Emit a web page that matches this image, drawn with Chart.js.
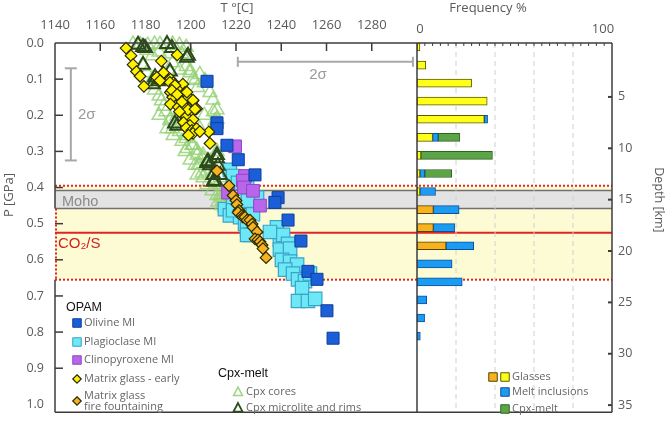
<!DOCTYPE html>
<html>
<head>
<meta charset="utf-8">
<script src="https://cdn.jsdelivr.net/npm/chart.js@4.4.1/dist/chart.umd.min.js"></script>
<style>
  html, body { margin: 0; padding: 0; background: #fff; overflow: hidden; }
  canvas { display: block; }
</style>
</head>
<body>
<canvas id="chart" width="669" height="423"></canvas>
<script>
// ---- data: [T °C, P GPa] ----
const olivineMI = [[1207.2,0.106],[1211.6,0.221],[1211.6,0.237],[1216,0.283],[1221,0.323],[1228.4,0.365],
  [1238.6,0.428],[1237.2,0.441],[1243,0.49],[1248.7,0.548],[1251.8,0.632],[1255.8,0.654],[1260.2,0.741],[1262.9,0.817]];
const plagMI = [[1217.3,0.351],[1218.7,0.368],[1220.9,0.387],[1224.9,0.373],[1225.3,0.42],[1229.3,0.428],
  [1215.1,0.46],[1218.7,0.447],[1220.4,0.474],[1217.3,0.477],[1221.8,0.482],[1224,0.501],[1224.9,0.515],
  [1226.2,0.531],[1225.3,0.436],[1227.5,0.474],[1238.1,0.51],[1239.4,0.545],[1240.8,0.531],[1243,0.556],
  [1235,0.523],[1239.4,0.572],[1243.9,0.569],[1240.3,0.6],[1243.9,0.605],[1247,0.613],[1241.7,0.627],
  [1245.2,0.638],[1247.4,0.654],[1250.5,0.659],[1249.2,0.678],[1252.7,0.638],[1247.4,0.714],[1251.8,0.714],
  [1255,0.708],[1224.9,0.531],[1218.7,0.463]];
const cpxMI = [[1219.6,0.286],[1224,0.368],[1223,0.381],[1223.5,0.4],[1227.5,0.409],[1216.5,0.414],[1230.6,0.45]];
const glassEarly = [[1171.4,0.014],[1173.6,0.035],[1174.5,0.06],[1176,0.079],[1177.6,0.092],[1179.3,0.12],
  [1187,0.05],[1194,0.033],[1188,0.082],[1191,0.1],[1192.3,0.11],[1194,0.12],[1196.5,0.114],[1195,0.134],
  [1197.5,0.137],[1191,0.137],[1192,0.15],[1196,0.16],[1199,0.15],[1201,0.16],[1191,0.169],[1194.5,0.177],
  [1198,0.18],[1202.6,0.182],[1196,0.196],[1200.5,0.19],[1198,0.204],[1201,0.212],[1196.8,0.22],[1199.6,0.228],
  [1198,0.235],[1200.5,0.242],[1202.6,0.237],[1201,0.25],[1208,0.246],[1208.5,0.278],[1199,0.255],[1204,0.245],
  [1185,0.095],[1186.4,0.104],[1190.8,0.109],[1193,0.117],[1191.7,0.131],[1194,0.142],[1198.3,0.136],
  [1201,0.158],[1197.5,0.177],[1198.8,0.185],[1201.9,0.183],[1196.1,0.163],[1195,0.19]];
const glassFountain = [[1211.6,0.354],[1216.9,0.395],[1218.7,0.422],[1220,0.436],[1220.4,0.447],[1221.3,0.463],
  [1220.9,0.469],[1222.7,0.477],[1223.1,0.482],[1224,0.482],[1224.9,0.49],[1226.2,0.49],[1227.1,0.501],
  [1227.5,0.51],[1229.3,0.523],[1228.4,0.542],[1229.7,0.545],[1230.6,0.55],[1231.5,0.559],[1231.9,0.569],[1233.3,0.594]];
const cpxCores = [[1174.5,0.003],[1177.6,0.004],[1181,0.006],[1184,0.003],[1186.4,0.004],[1189.5,0.006],
  [1192,0.003],[1195,0.006],[1198,0.012],[1180.6,0.02],[1186,0.025],[1183,0.035],[1190,0.03],[1196,0.03],
  [1192,0.055],[1198,0.065],[1199.7,0.082],[1204,0.087],[1195,0.075],[1201,0.1],[1206,0.11],[1208.5,0.137],
  [1203,0.123],[1210,0.19],[1211.6,0.21],[1206,0.2],[1204,0.237],[1198,0.264],[1200.5,0.283],[1202.7,0.297],
  [1205.4,0.31],[1208.5,0.327],[1204,0.338],[1207,0.354],[1210,0.365],[1212,0.392],[1213,0.42],[1214,0.436],
  [1213.8,0.45],[1192,0.237],[1195,0.245],[1191,0.21],[1188,0.175],[1186,0.147],[1183,0.1],[1180.6,0.082],
  [1179,0.065],[1190.8,0.215],[1193.9,0.202],[1189.5,0.237],[1192.2,0.256],[1196.1,0.272],[1198.3,0.256],
  [1201,0.283],[1197.5,0.3],[1202.8,0.31],[1205.4,0.319],[1199.7,0.324],[1201.9,0.338],[1207.2,0.338],
  [1205,0.36],[1209.8,0.36],[1211.6,0.3],[1213,0.373],[1210.7,0.215],[1198.3,0.292],[1203.2,0.338],
  [1202.8,0.365],[1205.4,0.373],[1207.2,0.392],[1209.4,0.409],[1211.6,0.422],[1213.8,0.428],[1199.7,0.076],
  [1201.9,0.104],[1206.3,0.104],[1209.8,0.158],[1211.6,0.185],[1184,0.13],[1187,0.16],[1189,0.19],[1186,0.2],
  [1212,0.44],[1215,0.455],[1218,0.46]];
const cpxRims = [[1176.7,0.005],[1178.9,0.011],[1179.8,0.014],[1189.5,0.003],[1191.7,0.014],[1198.8,0.035],
  [1178.9,0.06],[1184.2,0.095],[1186.4,0.1],[1187.7,0.087],[1190.8,0.079],[1183.3,0.114],[1185.5,0.106],
  [1193,0.223],[1194,0.229],[1207.2,0.332],[1207.6,0.327],[1211.6,0.31],[1208.5,0.338],[1210,0.365],
  [1210.7,0.381],[1213,0.365],[1212,0.34],[1210,0.384],[1198.3,0.041],[1211.6,0.319]];

// ---- frequency histogram, bins in P (GPa) ----
const binP          = [0, 0.05, 0.10, 0.15, 0.20, 0.25, 0.30, 0.35, 0.40, 0.45, 0.50, 0.55, 0.60, 0.65, 0.70, 0.75, 0.80];
const freqGlassFF   = [0, 0,    0,    0,    0,    0,    0,    0,    0,    8.4,  8.4,  14.9, 0,    0,    0,    0,    0];
const freqGlassEarly= [1.5, 4.5, 28,  36,   34.5, 8,    2,    1.5,  1.5,  0,    0,    0,    0,    0,    0,    0,    0];
const freqMI        = [0, 0,    0,    0,    1.7,  2.9,  0,    2.5,  8,    13.2, 10.9, 14.2, 18,   23.2, 5,    3.9,  1.7];
const freqCpx       = [0, 0,    0,    0,    0,    11.1, 36.7, 13.8, 0,    0,    0,    0,    0,    0,    0,    0,    0];

// ---- axis tick labels ----
const tTicks = [1140, 1160, 1180, 1200, 1220, 1240, 1260, 1280];
const pTicks = [0, 0.1, 0.2, 0.3, 0.4, 0.5, 0.6, 0.7, 0.8, 0.9, 1.0];
const depthTicks = [5, 10, 15, 20, 25, 30, 35];

// ---- reference levels (GPa) ----
const zone = [0.395, 0.655];
const moho = [0.408, 0.458];
const co2s = 0.525;

// left panel share of the plot width
const split = 362 / 557;

const pts = arr => arr.map(([t, p]) => ({ x: t, y: p }));
const bars = vals => binP.map((p, i) => ({ x: vals[i], y: p })).filter(d => d.x > 0);

function scatterSet(label, data, style, r, fill, stroke, lw) {
  return {
    type: 'scatter', label, data: pts(data), clip: false, xAxisID: 'x', yAxisID: 'y',
    pointStyle: style, pointRadius: r, pointHoverRadius: r,
    pointBackgroundColor: fill, pointBorderColor: stroke, pointBorderWidth: lw
  };
}
function barSet(label, vals, fill, stroke) {
  return {
    type: 'bar', label, data: bars(vals), indexAxis: 'y', xAxisID: 'x2', yAxisID: 'y',
    stack: 'freq', barThickness: 8, backgroundColor: fill, borderColor: stroke, borderWidth: 1,
    borderSkipped: false
  };
}

function line(ctx, x1, y1, x2, y2) {
  ctx.beginPath(); ctx.moveTo(x1, y1); ctx.lineTo(x2, y2); ctx.stroke();
}
function mark(ctx, shape, x, y, s, fill, stroke, lw) {
  ctx.beginPath();
  if (shape === 'sq') ctx.rect(x - s / 2, y - s / 2, s, s);
  else if (shape === 'dia') {
    ctx.moveTo(x, y - s / 2); ctx.lineTo(x + s / 2, y); ctx.lineTo(x, y + s / 2); ctx.lineTo(x - s / 2, y); ctx.closePath();
  } else {
    ctx.moveTo(x, y - s * 0.55); ctx.lineTo(x + s / 2, y + s * 0.4); ctx.lineTo(x - s / 2, y + s * 0.4); ctx.closePath();
  }
  if (fill) { ctx.fillStyle = fill; ctx.fill(); }
  ctx.strokeStyle = stroke; ctx.lineWidth = lw; ctx.stroke();
}
function text(ctx, str, x, y, font, color, align) {
  ctx.font = font; ctx.fillStyle = color; ctx.textAlign = align || 'left'; ctx.textBaseline = 'middle';
  ctx.fillText(str, x, y);
}

const decor = {
  id: 'decor',
  beforeDraw(chart) {
    const { ctx, chartArea: a, scales } = chart;
    const py = v => scales.y.getPixelForValue(v);
    const fx = v => scales.x2.getPixelForValue(v);
    ctx.save();
    const zt = py(zone[0]), zb = py(zone[1]);
    ctx.fillStyle = '#fdfbd3';
    ctx.fillRect(a.left, zt, a.right - a.left, zb - zt);
    const mt = py(moho[0]), mb = py(moho[1]);
    ctx.fillStyle = '#e3e3e3';
    ctx.fillRect(a.left, mt, a.right - a.left, mb - mt);
    ctx.strokeStyle = '#707070'; ctx.lineWidth = 1.5;
    line(ctx, a.left, mt, a.right, mt);
    line(ctx, a.left, mb, a.right, mb);
    ctx.strokeStyle = '#e02424'; ctx.lineWidth = 2; ctx.setLineDash([2, 2]);
    line(ctx, a.left, zt, a.right, zt);
    line(ctx, a.left, zb, a.right, zb);
    line(ctx, a.left + 1, mb, a.left + 1, zb);
    ctx.setLineDash([]);
    ctx.strokeStyle = '#e02424'; ctx.lineWidth = 2;
    line(ctx, a.left, py(co2s), a.right, py(co2s));
    ctx.strokeStyle = '#d0d0d0'; ctx.lineWidth = 1; ctx.setLineDash([5, 4]);
    [20, 40, 60, 80].forEach(v => line(ctx, fx(v), a.top, fx(v), a.bottom));
    ctx.setLineDash([]);
    text(ctx, 'Moho', 62, py(0.441), '14.5px "Liberation Sans"', '#8a8a8a');
    text(ctx, 'CO₂/S', 58, py(0.557), '15px "Liberation Sans"', '#d42020');
    ctx.restore();
  },
  afterDraw(chart) {
    const { ctx, chartArea: a, scales } = chart;
    const py = v => scales.y.getPixelForValue(v);
    const px = v => scales.x.getPixelForValue(v);
    const fx = v => scales.x2.getPixelForValue(v);
    const dy = v => scales.y2.getPixelForValue(v);
    ctx.save();
    // frame
    ctx.strokeStyle = '#3c3c3c'; ctx.lineWidth = 1.5;
    line(ctx, a.left, a.top, a.right, a.top);
    line(ctx, a.left, a.bottom, a.right, a.bottom);
    line(ctx, a.right, a.top, a.right, a.bottom);
    line(ctx, fx(0), a.top, fx(0), a.bottom);
    line(ctx, a.left, a.top, a.left, py(moho[1]));
    line(ctx, a.left, py(zone[1]), a.left, a.bottom);
    // inward ticks
    tTicks.slice(1).forEach(v => line(ctx, px(v), a.top, px(v), a.top + 8));
    pTicks.slice(1, -1).forEach(v => line(ctx, a.left, py(v), a.left + 8, py(v)));
    ctx.lineWidth = 1;
    for (let v = 4; v < 100; v += 4) line(ctx, fx(v), a.top, fx(v), a.top + 3);
    ctx.lineWidth = 2;
    depthTicks.forEach(v => line(ctx, a.right - 4, dy(v), a.right, dy(v)));
    // tick labels
    const lab = '#5a5a5a';
    tTicks.forEach(v => text(ctx, String(v), px(v), 25, '13px "Open Sans"', lab, 'center'));
    pTicks.forEach(v => text(ctx, v.toFixed(1), 44, py(v), '12.5px "Open Sans"', lab, 'right'));
    depthTicks.forEach(v => text(ctx, String(v), 618, dy(v), '12.5px "Open Sans"', lab, 'left'));
    text(ctx, '0', fx(0) + 3, 29, '13px "Open Sans"', lab, 'center');
    text(ctx, '100', fx(100) - 9, 29, '13px "Open Sans"', lab, 'center');
    // 2 sigma bars
    ctx.strokeStyle = '#a8a8a8'; ctx.lineWidth = 2;
    const ex = px(1147), e1 = py(0.07), e2 = py(0.325);
    line(ctx, ex, e1, ex, e2);
    line(ctx, ex - 6, e1, ex + 6, e1);
    line(ctx, ex - 6, e2, ex + 6, e2);
    const hy = py(0.052), h1 = px(1220.8), h2 = px(1298.2);
    line(ctx, h1, hy, h2, hy);
    line(ctx, h1, hy - 5, h1, hy + 5);
    line(ctx, h2, hy - 5, h2, hy + 5);
    text(ctx, '2σ', 78, py(0.2), '15px "Liberation Sans"', '#9a9a9a');
    text(ctx, '2σ', 318, py(0.087), '15px "Liberation Sans"', '#9a9a9a', 'center');
    // axis titles
    text(ctx, 'T °[C]', 237, 8, '13px "Open Sans"', lab, 'center');
    text(ctx, 'Frequency %', 488, 8, '13px "Open Sans"', lab, 'center');
    ctx.save(); ctx.translate(9, 195); ctx.rotate(-Math.PI / 2);
    text(ctx, 'P [GPa]', 0, 0, '13px "Open Sans"', lab, 'center'); ctx.restore();
    ctx.save(); ctx.translate(659, 200); ctx.rotate(Math.PI / 2);
    text(ctx, 'Depth [km]', 0, 0, '12.5px "Open Sans"', lab, 'center'); ctx.restore();
    // legend, left
    const lf = '11px "Open Sans"', lc = '#666';
    text(ctx, 'OPAM', 66, 308, '12.5px "Liberation Sans"', '#111');
    mark(ctx, 'sq', 77, 323, 8.5, '#1a5fd8', '#0c3f9e', 1);
    text(ctx, 'Olivine MI', 84, 323, lf, lc);
    mark(ctx, 'sq', 77, 342, 8.5, '#6ee8f7', '#3aa3c7', 1);
    text(ctx, 'Plagioclase MI', 84, 342, lf, lc);
    mark(ctx, 'sq', 77, 360, 8.5, '#b866ea', '#9146c8', 1);
    text(ctx, 'Clinopyroxene MI', 84, 360, lf, lc);
    mark(ctx, 'dia', 77, 379, 8.5, '#fff200', '#2b2b00', 1.2);
    text(ctx, 'Matrix glass - early', 84, 379, lf, lc);
    mark(ctx, 'dia', 77, 401, 8.5, '#f6b21f', '#2b2b00', 1.2);
    text(ctx, 'Matrix glass', 84, 396, lf, lc);
    text(ctx, 'fire fountaining', 84, 407, lf, lc);
    text(ctx, 'Cpx-melt', 218, 374, '12.5px "Liberation Sans"', '#111');
    mark(ctx, 'tri', 238, 392, 9, null, '#9fd684', 1.5);
    text(ctx, 'Cpx cores', 246, 392, lf, lc);
    mark(ctx, 'tri', 238, 408, 9, null, '#2c4a1b', 1.8);
    text(ctx, 'Cpx microlite and rims', 246, 408, lf, lc);
    // legend, right
    mark(ctx, 'sq', 493, 377, 8.5, '#f6b21f', '#5a4000', 1);
    mark(ctx, 'sq', 505, 377, 8.5, '#ffff1a', '#5a5a00', 1);
    text(ctx, 'Glasses', 512, 377, lf, lc);
    mark(ctx, 'sq', 505, 392, 8.5, '#1c9cf0', '#0c4fa0', 1);
    text(ctx, 'Melt inclusions', 512, 392, lf, lc);
    mark(ctx, 'sq', 505, 409, 8.5, '#5ca546', '#2e6422', 1);
    text(ctx, 'Cpx-melt', 512, 409, lf, lc);
    ctx.restore();
  }
};

new Chart(document.getElementById('chart'), {
  type: 'scatter',
  data: {
    datasets: [
      scatterSet('Matrix glass fire fountaining', glassFountain, 'rectRot', 5.8, '#f6b21f', '#2b2b00', 1.2),
      scatterSet('Matrix glass - early', glassEarly, 'rectRot', 5.8, '#fff200', '#2b2b00', 1.2),
      scatterSet('Cpx microlite and rims', cpxRims, 'triangle', 8, 'rgba(0,0,0,0)', '#2c4a1b', 2),
      scatterSet('Olivine MI', olivineMI, 'rect', 8.5, '#1a5fd8', '#0c3f9e', 1),
      scatterSet('Clinopyroxene MI', cpxMI, 'rect', 9, '#b866ea', '#9146c8', 1),
      scatterSet('Plagioclase MI', plagMI, 'rect', 9.5, '#6ee8f7', '#3aa3c7', 1.2),
      scatterSet('Cpx cores', cpxCores, 'triangle', 8, 'rgba(0,0,0,0)', 'rgba(150,210,120,0.85)', 1.5),
      barSet('Glasses (fire fountaining)', freqGlassFF, '#f6b21f', '#5a4000'),
      barSet('Glasses (early)', freqGlassEarly, '#ffff1a', '#5a5a00'),
      barSet('Melt inclusions', freqMI, '#1c9cf0', '#0c4fa0'),
      barSet('Cpx-melt', freqCpx, '#5ca546', '#2e6422')
    ]
  },
  options: {
    responsive: false,
    animation: false,
    devicePixelRatio: 1,
    events: [],
    layout: { padding: { left: 55, top: 43, right: 57, bottom: 5 } },
    plugins: { legend: { display: false }, tooltip: { enabled: false } },
    scales: {
      x: { type: 'linear', display: false, offset: false, min: 1140, max: 1140 + 160 / split },
      x2: { type: 'linear', display: false, offset: false, min: -100 * split / (1 - split), max: 100, stacked: true },
      y: { type: 'linear', display: false, offset: false, reverse: true, min: 0, max: 1.022 },
      y2: { type: 'linear', display: false, offset: false, reverse: true, min: -0.25, max: 35.7 }
    }
  },
  plugins: [decor]
});
</script>
</body>
</html>
